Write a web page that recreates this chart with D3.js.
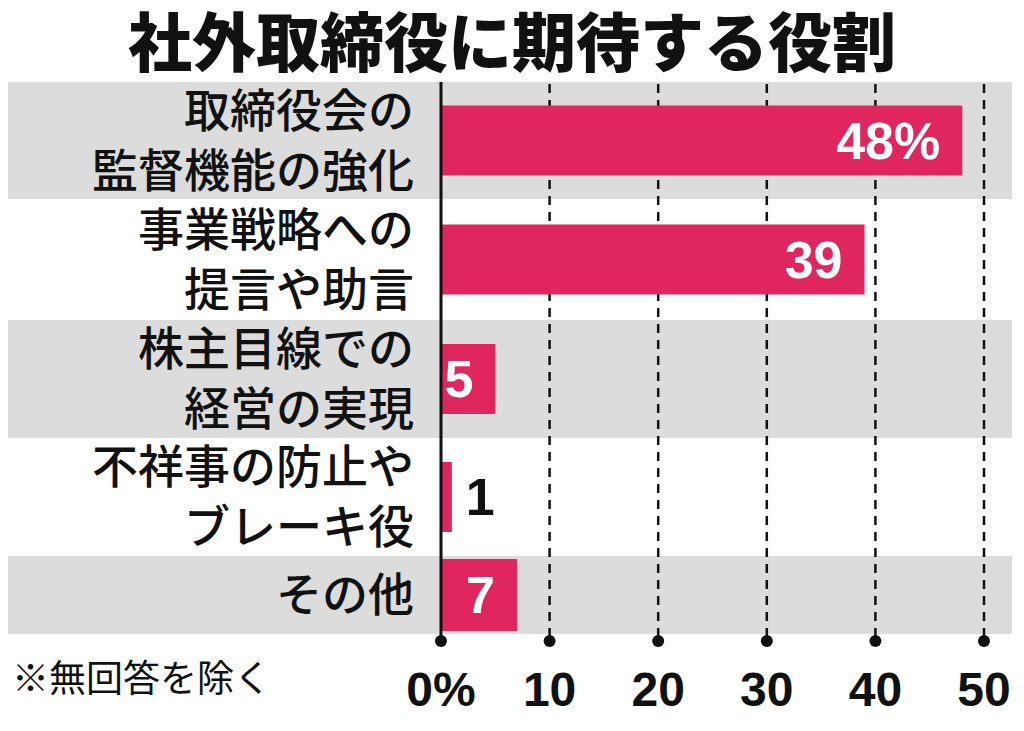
<!DOCTYPE html>
<html><head><meta charset="utf-8">
<script src="https://cdn.jsdelivr.net/npm/d3@7"></script>
<style>body{margin:0;background:#fff}</style>
</head><body>
<svg id="chart" width="1024" height="731"></svg>
<script>
const title = '社外取締役に期待する役割';
const categories = [
  ['取締役会の', '監督機能の強化'],
  ['事業戦略への', '提言や助言'],
  ['株主目線での', '経営の実現'],
  ['不祥事の防止や', 'ブレーキ役'],
  ['その他']
];
const values = [48, 39, 5, 1, 7];
const valueLabels = ['48%', '39', '5', '1', '7'];
const ticks = [0, 10, 20, 30, 40, 50];
const tickLabels = ['0%', '10', '20', '30', '40', '50'];
const note = '※無回答を除く';

const svg = d3.select('#chart');
const font = '"Noto Sans CJK JP", sans-serif';
const barColor = '#e0265f';

const x = d3.scaleLinear().domain([0, 50]).range([441, 984]);
const rowTop = [82, 199, 320, 438, 556];
const rowBot = [199, 320, 438, 556, 634];

svg.append('text').attr('x', 512).attr('y', 66).attr('text-anchor', 'middle')
  .attr('font-family', font).attr('font-weight', 900).attr('font-size', 64)
  .attr('fill', '#111').text(title);

categories.forEach((c, i) => {
  if (i % 2 === 0) {
    svg.append('rect').attr('x', 8).attr('y', rowTop[i]).attr('width', 1004)
      .attr('height', rowBot[i] - rowTop[i]).attr('fill', '#dcdcdc');
  }
});

ticks.slice(1).forEach(t => {
  svg.append('line').attr('x1', x(t)).attr('x2', x(t)).attr('y1', 84).attr('y2', 640)
    .attr('stroke', '#111').attr('stroke-width', 2.5).attr('stroke-dasharray', '9,7');
});

categories.forEach((c, i) => {
  const top = rowTop[i], bot = rowBot[i];
  const bh = i === 4 ? (bot - top) - 6 : 70;
  const by = (top + bot) / 2 - bh / 2;
  svg.append('rect').attr('x', x(0)).attr('y', by).attr('width', x(values[i]) - x(0))
    .attr('height', bh).attr('fill', barColor);
  const inside = values[i] >= 3;
  svg.append('text')
    .attr('x', inside ? x(values[i]) - 22 : x(values[i]) + 14)
    .attr('y', by + bh / 2 + 18)
    .attr('text-anchor', inside ? 'end' : 'start')
    .attr('font-family', 'Liberation Sans, Arial, sans-serif').attr('font-weight', 700)
    .attr('font-size', 52).attr('fill', inside ? '#fff' : '#111')
    .text(valueLabels[i]);
  const mid = (top + bot) / 2;
  c.forEach((line, j) => {
    const ly = mid + (j - (c.length - 1) / 2) * 60 + 16;
    svg.append('text').attr('x', 414).attr('y', ly).attr('text-anchor', 'end')
      .attr('font-family', font).attr('font-weight', 500).attr('font-size', 46)
      .attr('fill', '#111').text(line);
  });
});

svg.append('line').attr('x1', x(0)).attr('x2', x(0)).attr('y1', 82).attr('y2', 640)
  .attr('stroke', '#111').attr('stroke-width', 3);

ticks.forEach((t, i) => {
  svg.append('circle').attr('cx', x(t)).attr('cy', 641).attr('r', 6).attr('fill', '#111');
  svg.append('text').attr('x', x(t)).attr('y', 706).attr('text-anchor', 'middle')
    .attr('font-family', 'Liberation Sans, Arial, sans-serif').attr('font-weight', 700)
    .attr('font-size', 48).attr('fill', '#111').text(tickLabels[i]);
});

svg.append('text').attr('x', 12).attr('y', 692)
  .attr('font-family', font).attr('font-size', 37)
  .attr('fill', '#111').text(note);
</script>
</body></html>
